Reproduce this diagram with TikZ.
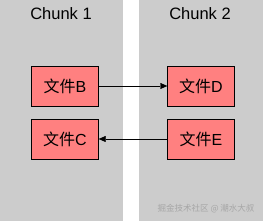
\documentclass[tikz,border=0pt]{standalone}
\usepackage{fontspec}
\setmainfont{Liberation Sans}
\newfontfamily\cjk{Noto Sans CJK SC}
\usetikzlibrary{positioning, arrows.meta}
\definecolor{chunkgrey}{HTML}{CCCCCC}
\definecolor{filered}{HTML}{FF8080}

\begin{document}
\begin{tikzpicture}[
      x=1pt, y=-1pt,
      every node/.style={font=\fontsize{16}{18}\selectfont},
      filebox/.style={draw, thin, fill=filered, minimum width=67pt, minimum height=40pt, inner sep=0pt},
      title/.style={font=\fontsize{16.5}{18}\selectfont},
      >={Triangle[length=7pt, width=6pt]},
    ]
    \useasboundingbox (0,0) rectangle (263,221);
    \fill[chunkgrey] (0,0) rectangle (123,221);
    \fill[chunkgrey] (139,0) rectangle (263,221);

    \node[title] (c1) at (61,14) {Chunk 1};
    \node[title] (c2) at (200,14) {Chunk 2};

    \node[filebox] (fb) at (65,86) {{\cjk 文件}B};
    \node[filebox] (fc) at (65,139) {{\cjk 文件}C};
    \node[filebox] (fd) at (201,86) {{\cjk 文件}D};
    \node[filebox] (fe) at (201,139) {{\cjk 文件}E};

    \draw[->, thin] (fb) -- (fd);
    \draw[->, thin] (fe) -- (fc);

    \node[text=black!35, font=\cjk\fontsize{8.5}{10}\selectfont, anchor=east] (wm) at (258,209) {掘金技术社区 @ 潮水大叔};
  \end{tikzpicture}
\end{document}
